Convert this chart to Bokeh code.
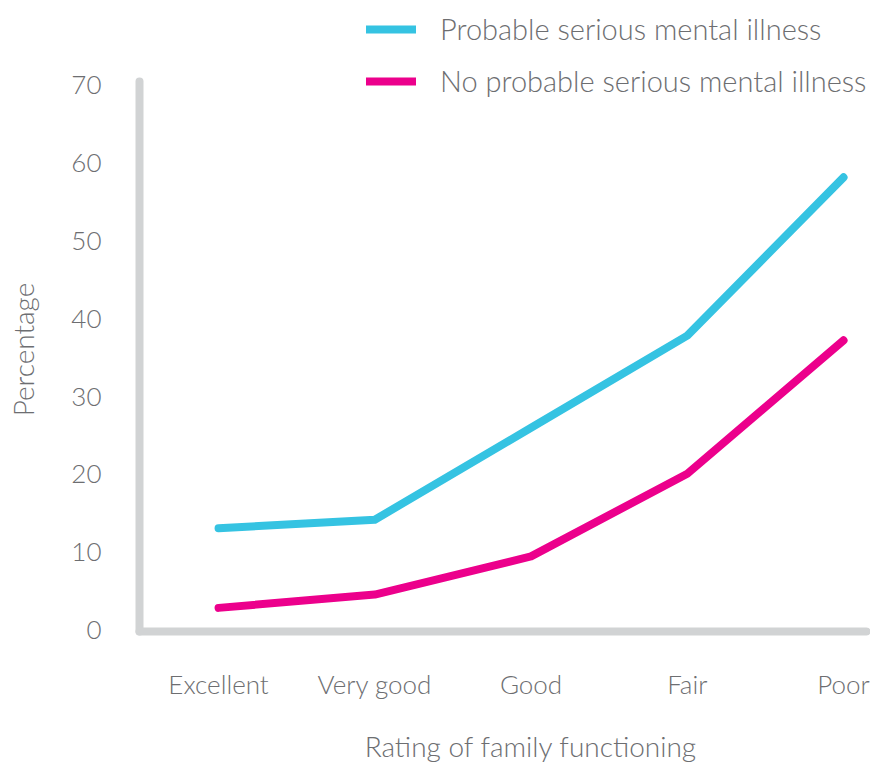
from bokeh.plotting import figure
from bokeh.models import Range1d, FixedTicker, Legend, LegendItem
from bokeh.embed import file_html
from bokeh.resources import INLINE

categories = ["Excellent", "Very good", "Good", "Fair", "Poor"]
smi = [13.1, 14.2, 26.0, 37.8, 58.1]
no_smi = [2.9, 4.6, 9.5, 20.1, 37.2]
y_ticks = [0, 10, 20, 30, 40, 50, 60, 70]

BLUE = "#35C3E2"
PINK = "#EC008C"
AXIS = "#D1D3D4"
TEXT = "#6D6E71"
FONT = "Lato Light"
FS = "26px"
FS_BIG = "28px"
EM = "\u2003"
EN = "\u2002"

xs = list(range(len(categories)))

p = figure(width=870, height=765, output_backend="svg", toolbar_location=None,
           x_range=Range1d(-0.506, 4.147), y_range=Range1d(-0.13, 80.26),
           min_border_left=139, min_border_right=4, min_border_top=4,
           min_border_bottom=134)
p.outline_line_color = None
p.grid.visible = False
p.background_fill_color = None
p.border_fill_color = None

r1 = p.line(xs, smi, line_color=BLUE, line_width=8, line_cap="round", line_join="round")
r2 = p.line(xs, no_smi, line_color=PINK, line_width=8, line_cap="round", line_join="round")

for ax in (p.xaxis[0], p.yaxis[0]):
    ax.axis_line_color = AXIS
    ax.axis_line_width = 8
    ax.axis_line_cap = "round"
    ax.major_tick_line_color = None
    ax.minor_tick_line_color = None
    ax.major_tick_out = 0
    ax.major_tick_in = 0
    ax.major_label_text_font = FONT
    ax.major_label_text_font_size = FS
    ax.major_label_text_color = TEXT
    ax.axis_label_text_font = FONT
    ax.axis_label_text_font_size = FS_BIG
    ax.axis_label_text_color = TEXT
    ax.axis_label_text_font_style = "normal"

p.xaxis.ticker = FixedTicker(ticks=xs)
p.xaxis.major_label_overrides = {i: c for i, c in enumerate(categories)}
p.xaxis.major_label_standoff = 36
p.xaxis.axis_label = EM + EM + EN + "Rating of family functioning"
p.xaxis.axis_label_standoff = 26

p.yaxis.ticker = FixedTicker(ticks=y_ticks)
p.yaxis.bounds = (-0.13, 70.38)
p.yaxis.major_label_standoff = 38
p.yaxis.axis_label = "Percentage" + EM + EM + EM
p.yaxis.axis_label_standoff = 28

legend = Legend(items=[LegendItem(label="Probable serious mental illness", renderers=[r1]),
                       LegendItem(label="No probable serious mental illness", renderers=[r2])],
                location=(227, 533))
legend.glyph_width = 50
legend.glyph_height = 30
legend.label_height = 30
legend.label_standoff = 24
legend.spacing = 17
legend.padding = 0
legend.margin = 0
legend.border_line_color = None
legend.background_fill_alpha = 0
legend.label_text_font = FONT
legend.label_text_font_size = "29px"
legend.label_text_color = TEXT
p.add_layout(legend, "center")

open("out.html", "w").write(file_html(p, INLINE))
